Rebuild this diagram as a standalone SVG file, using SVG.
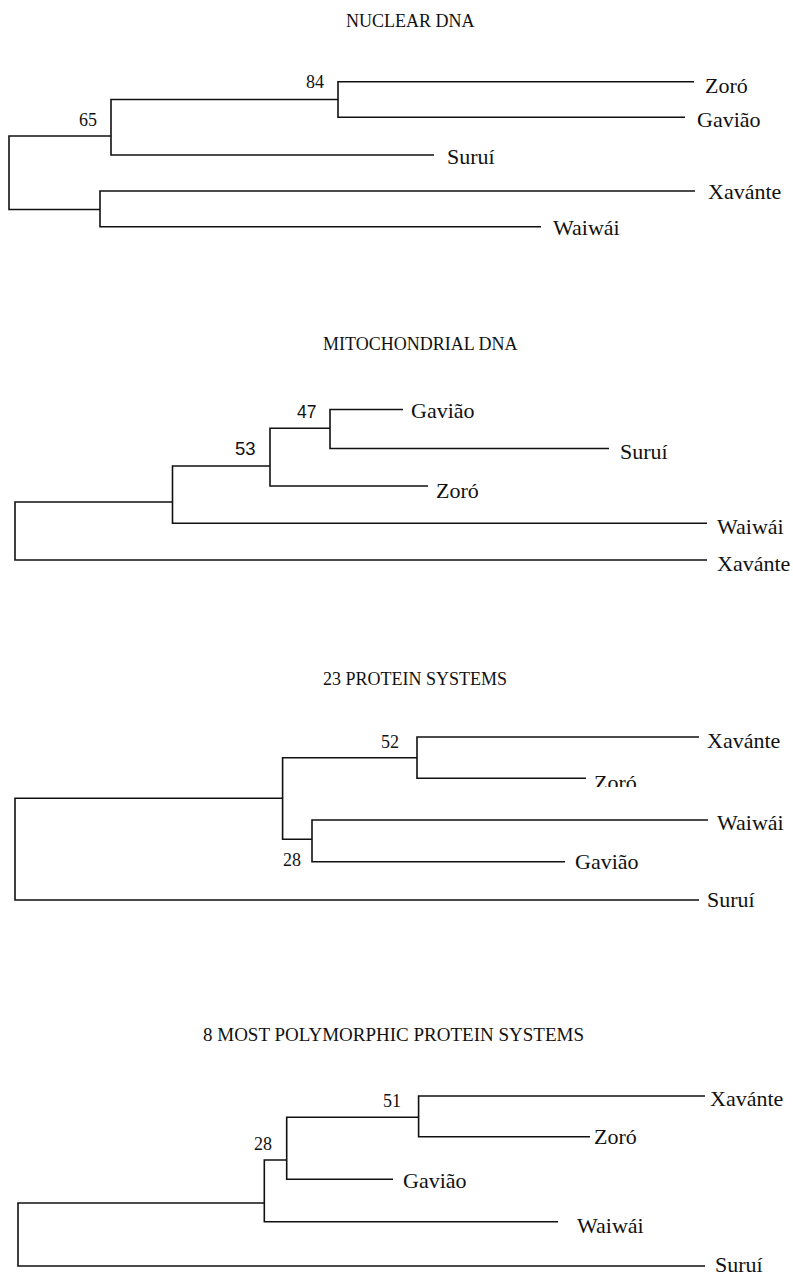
<svg xmlns="http://www.w3.org/2000/svg" width="793" height="1276" viewBox="0 0 793 1276">
<style>
.title{font-family:"Liberation Serif","Times New Roman",serif;font-size:18px;fill:#111}
.leaf{font-family:"Liberation Serif","Times New Roman",serif;font-size:22px;fill:#111}
.boot{font-family:"Liberation Serif","Times New Roman",serif;font-size:18px;fill:#111}
.boots{font-family:"Liberation Sans",Arial,sans-serif;fill:#111}
.br{fill:none;stroke:#111;stroke-width:1.6}
</style>
<defs>
<clipPath id="clipZoro3"><rect x="580" y="760" width="100" height="27"/></clipPath>
</defs>
<rect width="793" height="1276" fill="#fff"/>

<!-- Tree 1: NUCLEAR DNA -->
<g id="tree1">
<text id="t1-title" class="title" x="346" y="27">NUCLEAR DNA</text>
<g id="t1-connectors">
<path class="br" d="M111,136 H9 V209.5 H100"/>
<path class="br" d="M338,99.5 H111 V155 H434"/>
<path class="br" d="M694,81.7 H338 V117.3 H685"/>
<path class="br" d="M695,191 H100 V226.7 H541"/>
</g>
<g id="t1-n84"><text class="boot" x="306" y="88">84</text></g>
<g id="t1-n65"><text class="boot" x="79" y="126">65</text></g>
<g id="t1-zoro"><text class="leaf" x="705" y="93">Zoró</text></g>
<g id="t1-gaviao"><text class="leaf" x="697" y="127">Gavião</text></g>
<g id="t1-surui"><text class="leaf" x="447" y="164">Suruí</text></g>
<g id="t1-xavante"><text class="leaf" x="708" y="199">Xavánte</text></g>
<g id="t1-waiwai"><text class="leaf" x="553" y="235">Waiwái</text></g>
</g>

<!-- Tree 2: MITOCHONDRIAL DNA -->
<g id="tree2">
<text id="t2-title" class="title" x="323" y="350">MITOCHONDRIAL DNA</text>
<g id="t2-connectors">
<path class="br" d="M172.5,502 H15 V560 H707"/>
<path class="br" d="M270,466 H172.5 V523.3 H707"/>
<path class="br" d="M330,428.3 H270 V486 H428"/>
<path class="br" d="M403,409.5 H330 V448.5 H609"/>
</g>
<g id="t2-n47"><text class="boots" font-size="17.5" x="297" y="418">47</text></g>
<g id="t2-n53"><text class="boots" font-size="18.5" x="235" y="455">53</text></g>
<g id="t2-gaviao"><text class="leaf" x="411" y="418">Gavião</text></g>
<g id="t2-surui"><text class="leaf" x="620" y="459">Suruí</text></g>
<g id="t2-zoro"><text class="leaf" x="436" y="498">Zoró</text></g>
<g id="t2-waiwai"><text class="leaf" x="717" y="534">Waiwái</text></g>
<g id="t2-xavante"><text class="leaf" x="717" y="571">Xavánte</text></g>
</g>

<!-- Tree 3: 23 PROTEIN SYSTEMS -->
<g id="tree3">
<text id="t3-title" class="title" x="323" y="685">23 PROTEIN SYSTEMS</text>
<g id="t3-connectors">
<path class="br" d="M282.6,798.3 H15 V900 H699"/>
<path class="br" d="M417,757.7 H282.6 V839.3 H312"/>
<path class="br" d="M699,737 H417 V778.3 H586"/>
<path class="br" d="M708,820 H312 V861.7 H565"/>
</g>
<g id="t3-n52"><text class="boot" x="381" y="748">52</text></g>
<g id="t3-n28"><text class="boot" x="283" y="866">28</text></g>
<g id="t3-xavante"><text class="leaf" x="707" y="748">Xavánte</text></g>
<g id="t3-zoro"><text class="leaf" x="594" y="790" clip-path="url(#clipZoro3)">Zoró</text></g>
<g id="t3-waiwai"><text class="leaf" x="717" y="830">Waiwái</text></g>
<g id="t3-gaviao"><text class="leaf" x="575" y="869">Gavião</text></g>
<g id="t3-surui"><text class="leaf" x="707" y="907">Suruí</text></g>
</g>

<!-- Tree 4: 8 MOST POLYMORPHIC PROTEIN SYSTEMS -->
<g id="tree4">
<text id="t4-title" class="title" x="203" y="1041" style="font-size:19px">8 MOST POLYMORPHIC PROTEIN SYSTEMS</text>
<g id="t4-connectors">
<path class="br" d="M264.3,1203 H18 V1266 H705"/>
<path class="br" d="M286.7,1160 H264.3 V1221.7 H558"/>
<path class="br" d="M418.6,1117.3 H286.7 V1179.3 H393"/>
<path class="br" d="M705,1096 H418.6 V1136.7 H590"/>
</g>
<g id="t4-n51"><text class="boot" x="383" y="1107">51</text></g>
<g id="t4-n28"><text class="boot" x="254" y="1150">28</text></g>
<g id="t4-xavante"><text class="leaf" x="710" y="1106">Xavánte</text></g>
<g id="t4-zoro"><text class="leaf" x="594" y="1144">Zoró</text></g>
<g id="t4-gaviao"><text class="leaf" x="403" y="1188">Gavião</text></g>
<g id="t4-waiwai"><text class="leaf" x="577" y="1233">Waiwái</text></g>
<g id="t4-surui"><text class="leaf" x="715" y="1272">Suruí</text></g>
</g>
</svg>
